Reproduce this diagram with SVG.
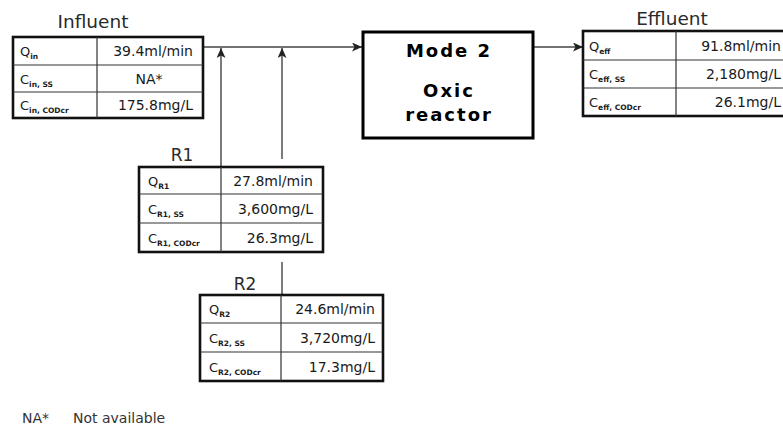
<svg xmlns="http://www.w3.org/2000/svg" width="783" height="429" viewBox="0 0 783 429">
<style>
text{font-family:"DejaVu Sans","Liberation Sans",sans-serif;fill:#1a1a1a}
.title{font-size:18.5px;fill:#2a2a2a}
.rt{font-size:17px;fill:#2a2a2a}
.v{font-size:14px;text-anchor:end}
.vc{font-size:14px;text-anchor:middle}
.l{font-size:13px}
.s{font-size:7.5px;font-weight:bold}
.outer{fill:#fff;stroke:#111;stroke-width:2.6}
.inner{stroke:#333;stroke-width:1.2;fill:none}
.conn{stroke:#444;stroke-width:1.4;fill:none}
.rx{font-size:18px;font-weight:bold;text-anchor:middle;letter-spacing:2px;fill:#000}
.foot{font-size:14px;fill:#333}
</style>
<defs>
<marker id="arr" markerUnits="userSpaceOnUse" markerWidth="10" markerHeight="9" refX="10" refY="4.5" orient="auto">
<path d="M0,0 L10,4.5 L0,9 L2.5,4.5 z" fill="#222"/>
</marker>
</defs>

<g id="connectors">
<line class="conn" x1="203" y1="47" x2="362" y2="47" marker-end="url(#arr)"/>
<line class="conn" x1="533" y1="47" x2="583" y2="47" marker-end="url(#arr)"/>
<line class="conn" x1="221" y1="167" x2="221" y2="48" marker-end="url(#arr)"/>
<line class="conn" x1="282" y1="159" x2="282" y2="48" marker-end="url(#arr)"/>
<line class="conn" x1="282" y1="295" x2="282" y2="262"/>
</g>

<g id="influent">
<text class="title" x="93" y="28" text-anchor="middle">Influent</text>
<rect class="outer" x="13" y="37" width="190" height="81"/>
<path class="inner" d="M97,37 V118 M13,65 H203 M13,92 H203"/>
<text class="l" x="20" y="56">Q<tspan class="s" dy="3">in</tspan></text>
<text class="v" x="193" y="56">39.4ml/min</text>
<text class="l" x="20" y="83.5">C<tspan class="s" dy="3">in, SS</tspan></text>
<text class="vc" x="149" y="83.5">NA*</text>
<text class="l" x="20" y="110">C<tspan class="s" dy="3">in, CODcr</tspan></text>
<text class="v" x="193" y="110">175.8mg/L</text>
</g>

<g id="reactor">
<rect x="363" y="32" width="170" height="106" fill="#fff" stroke="#000" stroke-width="3"/>
<text class="rx" x="449" y="57">Mode 2</text>
<text class="rx" x="449" y="97">Oxic</text>
<text class="rx" x="449" y="121">reactor</text>
</g>

<g id="effluent">
<text class="title" x="672" y="25" text-anchor="middle">Effluent</text>
<rect class="outer" x="583" y="31" width="210" height="85"/>
<path class="inner" d="M676,31 V116 M583,60 H790 M583,88 H790"/>
<text class="l" x="589" y="50.5">Q<tspan class="s" dy="3">eff</tspan></text>
<text class="v" x="781" y="50.5">91.8ml/min</text>
<text class="l" x="589" y="79">C<tspan class="s" dy="3">eff, SS</tspan></text>
<text class="v" x="781" y="79">2,180mg/L</text>
<text class="l" x="589" y="107">C<tspan class="s" dy="3">eff, CODcr</tspan></text>
<text class="v" x="781" y="107">26.1mg/L</text>
</g>

<g id="r1">
<text class="rt" x="182" y="161" text-anchor="middle">R1</text>
<rect class="outer" x="139" y="167" width="184" height="85"/>
<path class="inner" d="M221,167 V252 M139,194 H323 M139,223 H323"/>
<text class="l" x="148" y="185.5">Q<tspan class="s" dy="3">R1</tspan></text>
<text class="v" x="313" y="185.5">27.8ml/min</text>
<text class="l" x="148" y="213.5">C<tspan class="s" dy="3">R1, SS</tspan></text>
<text class="v" x="313" y="213.5">3,600mg/L</text>
<text class="l" x="148" y="242.5">C<tspan class="s" dy="3">R1, CODcr</tspan></text>
<text class="v" x="313" y="242.5">26.3mg/L</text>
</g>

<g id="r2">
<text class="rt" x="245" y="290" text-anchor="middle">R2</text>
<rect class="outer" x="200" y="295" width="183" height="86"/>
<path class="inner" d="M281,295 V381 M200,323 H383 M200,352 H383"/>
<text class="l" x="209" y="314">Q<tspan class="s" dy="3">R2</tspan></text>
<text class="v" x="375" y="314">24.6ml/min</text>
<text class="l" x="209" y="342.5">C<tspan class="s" dy="3">R2, SS</tspan></text>
<text class="v" x="375" y="342.5">3,720mg/L</text>
<text class="l" x="209" y="371.5">C<tspan class="s" dy="3">R2, CODcr</tspan></text>
<text class="v" x="375" y="371.5">17.3mg/L</text>
</g>

<g id="footnote">
<text class="foot" x="22" y="423">NA*</text>
<text class="foot" x="73" y="423">Not available</text>
</g>
</svg>
